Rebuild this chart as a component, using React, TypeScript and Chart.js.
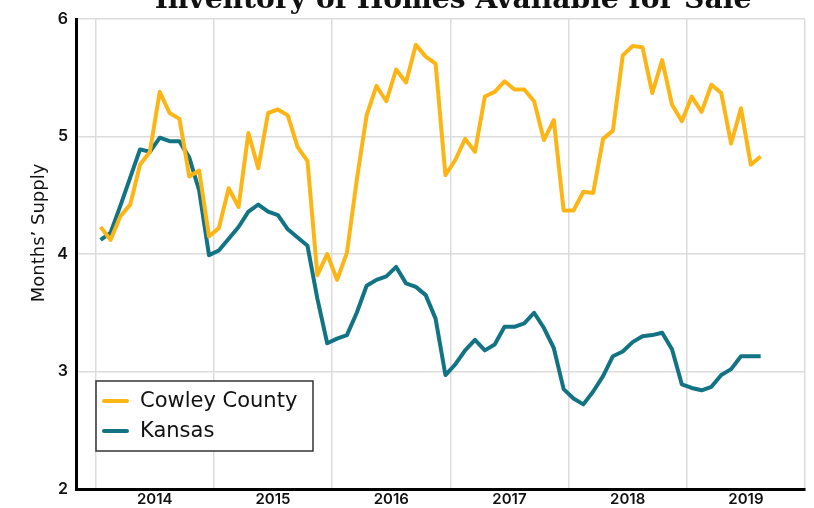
import React, { useEffect, useRef } from "react";
import { Chart, registerables } from "chart.js";
Chart.register(...registerables);

const chartTitle = "Inventory of Homes Available for Sale";
const yAxisTitle = "Months’ Supply";
const years = ["2014", "2015", "2016", "2017", "2018", "2019"];
const seriesNames = ["Cowley County", "Kansas"];
const seriesColors = ["#FDB515", "#127385"];

// Monthly values, Jan 2014 – Aug 2019
const cowley = [
  4.23, 4.12, 4.32, 4.42, 4.76, 4.87, 5.38, 5.2, 5.15, 4.66, 4.71, 4.15,
  4.22, 4.56, 4.4, 5.03, 4.73, 5.2, 5.23, 5.18, 4.91, 4.79, 3.82, 4.0,
  3.78, 4.01, 4.63, 5.18, 5.43, 5.3, 5.57, 5.46, 5.78, 5.68, 5.62, 4.67,
  4.8, 4.98, 4.87, 5.34, 5.38, 5.47, 5.4, 5.4, 5.3, 4.97, 5.14, 4.37,
  4.37, 4.53, 4.52, 4.98, 5.05, 5.69, 5.77, 5.76, 5.37, 5.65, 5.27, 5.13,
  5.34, 5.21, 5.44, 5.37, 4.94, 5.24, 4.76, 4.83,
];
const kansas = [
  4.12, 4.18, 4.41, 4.65, 4.89, 4.87, 4.99, 4.96, 4.96, 4.82, 4.54, 3.99,
  4.03, 4.13, 4.23, 4.36, 4.42, 4.36, 4.33, 4.21, 4.14, 4.07, 3.62, 3.24,
  3.28, 3.31, 3.5, 3.73, 3.78, 3.81, 3.89, 3.75, 3.72, 3.65, 3.45, 2.97,
  3.06, 3.18, 3.27, 3.18, 3.23, 3.38, 3.38, 3.41, 3.5, 3.37, 3.2, 2.85,
  2.77, 2.72, 2.83, 2.96, 3.13, 3.17, 3.25, 3.3, 3.31, 3.33, 3.19, 2.89,
  2.86, 2.84, 2.87, 2.97, 3.02, 3.13, 3.13, 3.13,
];
const yTicks = [2, 3, 4, 5, 6];

const FONT = "Inter, 'Noto Sans', sans-serif";
const TEXT_FONT = "'DejaVu Sans', sans-serif";

const toPoints = (arr: number[]) => arr.map((v, i) => ({ x: i, y: v }));

// year boundaries (grid) and year centres (labels), in month-index units
const xTickValues: number[] = [];
for (let k = 0; k <= years.length * 2; k++) xTickValues.push(-0.5 + 6 * k);

const overlayPlugin = {
  id: "overlay",
  afterDraw(chart: any) {
    const ctx = chart.ctx as CanvasRenderingContext2D;
    ctx.save();
    // title (partly cut off at the top)
    ctx.font = `bold 30px "DejaVu Serif"`;
    const w = ctx.measureText(chartTitle).width;
    const size = (30 * 597) / w;
    ctx.font = `bold ${size}px "DejaVu Serif"`;
    ctx.fillStyle = "#111";
    ctx.textAlign = "center";
    ctx.textBaseline = "alphabetic";
    ctx.fillText(chartTitle, 453, 7.5);

    // y-axis title
    ctx.save();
    ctx.translate(39, 233);
    ctx.rotate(-Math.PI / 2);
    ctx.font = `400 18px ${TEXT_FONT}`;
    ctx.textAlign = "center";
    ctx.textBaseline = "middle";
    ctx.fillStyle = "#111";
    ctx.fillText(yAxisTitle, 0, 0);
    ctx.restore();

    // legend box
    const bx = 96, by = 381, bw = 217, bh = 70;
    ctx.fillStyle = "#fff";
    ctx.fillRect(bx, by, bw, bh);
    ctx.strokeStyle = "#333";
    ctx.lineWidth = 1.5;
    ctx.strokeRect(bx, by, bw, bh);
    const ds = chart.data.datasets;
    ds.forEach((d: any, i: number) => {
      const cy = 401 + i * 30;
      ctx.strokeStyle = d.borderColor;
      ctx.lineWidth = 4;
      ctx.lineCap = "round";
      ctx.beginPath();
      ctx.moveTo(104, cy);
      ctx.lineTo(127, cy);
      ctx.stroke();
      ctx.fillStyle = "#111";
      ctx.font = `400 21px ${TEXT_FONT}`;
      ctx.textAlign = "left";
      ctx.textBaseline = "middle";
      ctx.fillText(d.label, 140, cy + 1);
    });
    ctx.restore();
  },
};

export default function App() {
  const ref = useRef<HTMLCanvasElement>(null);
  useEffect(() => {
    const chart = new Chart(ref.current!, {
      type: "line",
      data: {
        datasets: [
          {
            label: seriesNames[0],
            data: toPoints(cowley),
            borderColor: seriesColors[0],
            backgroundColor: seriesColors[0],
            borderWidth: 4,
            pointRadius: 0,
            tension: 0,
            borderJoinStyle: "round",
          },
          {
            label: seriesNames[1],
            data: toPoints(kansas),
            borderColor: seriesColors[1],
            backgroundColor: seriesColors[1],
            borderWidth: 4,
            pointRadius: 0,
            tension: 0,
            borderJoinStyle: "round",
          },
        ],
      },
      options: {
        animation: false,
        responsive: true,
        maintainAspectRatio: false,
        layout: { padding: { top: 19, right: 9, left: 0, bottom: 0 } },
        plugins: {
          legend: { display: false },
          title: { display: false },
          tooltip: { enabled: false },
        },
        scales: {
          x: {
            type: "linear",
            min: -2.5,
            max: 71.5,
            afterBuildTicks: (scale: any) => {
              scale.ticks = xTickValues.map((v) => ({ value: v }));
            },
            afterFit: (scale: any) => {
              scale.height = 19;
            },
            ticks: {
              autoSkip: false,
              maxRotation: 0,
              padding: 1,
              color: "#111",
              font: { family: FONT, size: 15, weight: "600" },
              callback: (v: any) => {
                const n = Number(v) - 5.5;
                if (Math.abs(n % 12) < 1e-6) return years[Math.round(n / 12)] ?? "";
                return "";
              },
            },
            grid: {
              drawTicks: false,
              lineWidth: 1.5,
              color: (c: any) => {
                const v = c.tick ? c.tick.value : 0;
                return Math.abs((v + 0.5) % 12) < 1e-6 ? "#dcdcdc" : "rgba(0,0,0,0)";
              },
            },
            border: { color: "#000", width: 3 },
          },
          y: {
            min: 2,
            max: 6,
            afterBuildTicks: (scale: any) => {
              scale.ticks = yTicks.map((v) => ({ value: v }));
            },
            afterFit: (scale: any) => {
              scale.width = 76;
            },
            ticks: {
              padding: 8,
              color: "#111",
              font: { family: FONT, size: 16, weight: "600" },
            },
            grid: { drawTicks: false, lineWidth: 1.5, color: "#dcdcdc" },
            border: { color: "#000", width: 3 },
          },
        },
      },
      plugins: [overlayPlugin],
    } as any);
    return () => chart.destroy();
  }, []);
  return (
    <div style={{ position: "fixed", left: 0, top: 0, width: 814, height: 508, background: "#fff" }}>
      <canvas ref={ref} style={{ display: "block" }} />
    </div>
  );
}
